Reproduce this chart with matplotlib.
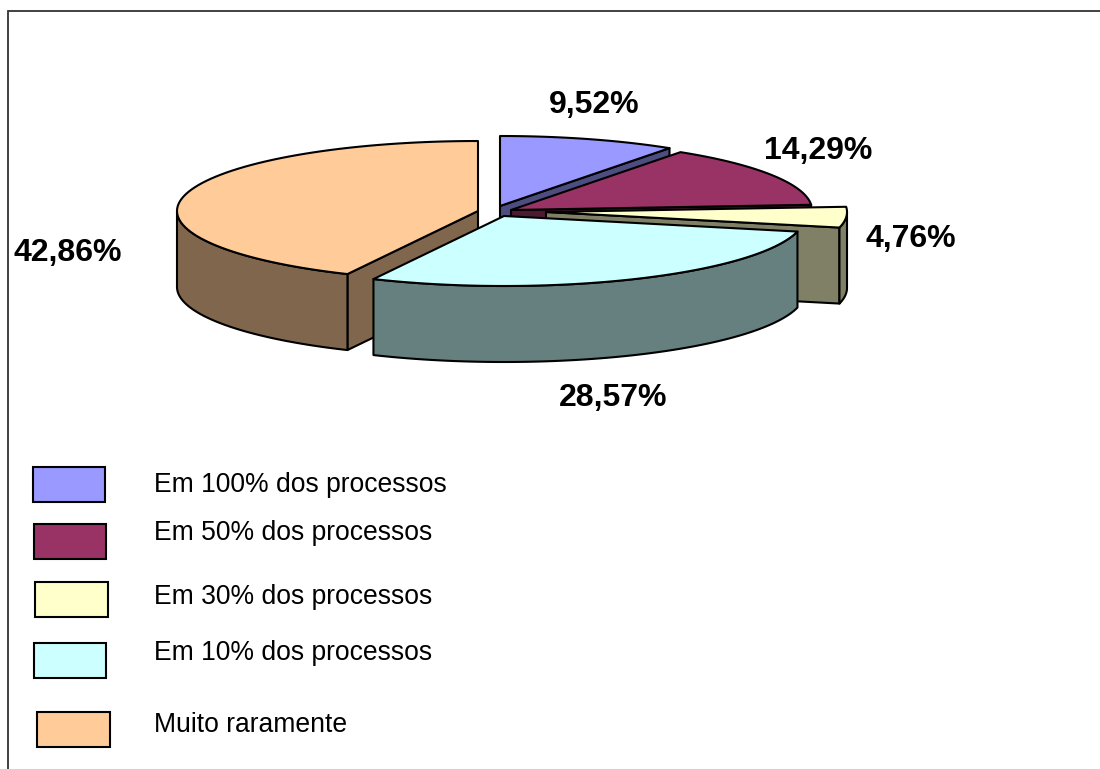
import numpy as np
import matplotlib
matplotlib.use("Agg")
import matplotlib.pyplot as plt
from matplotlib.patches import Polygon, Rectangle

categories = ["Em 100% dos processos", "Em 50% dos processos", "Em 30% dos processos",
              "Em 10% dos processos", "Muito raramente"]
values = [9.52, 14.29, 4.76, 28.57, 42.86]
value_labels = ["9,52%", "14,29%", "4,76%", "28,57%", "42,86%"]

top_colors = ["#9999FF", "#993366", "#FFFFCC", "#CCFFFF", "#FFCC99"]
wall_colors = ["#4D4D80", "#4D1A33", "#808066", "#668080", "#80664D"]
centers = [(500, 206), (511, 210), (546, 212), (504, 216), (478, 211)]
draw_order = [2, 3, 4, 6, 5]
label_pos = [(594, 105), (818, 151), (911, 239), (613, 398), (68, 253)]
swatches = [(32.5, 467), (33.5, 524), (35, 582), (33.5, 643), (37, 712)]
legend_text_y = [485, 533, 597, 653, 725]

RX, RY, DEPTH = 301, 70, 76
SW, SH = 72.5, 35
LW = 1.5

plt.rcParams["font.family"] = ["Liberation Sans", "DejaVu Sans"]
fig = plt.figure(figsize=(11, 7.69), dpi=100)
ax = fig.add_axes([0, 0, 1, 1])
ax.set_xlim(0, 1100)
ax.set_ylim(769, 0)
ax.axis("off")

ax.plot([8, 8, 1100], [769, 11, 11], color="#333333", lw=1.3, solid_joinstyle="miter", zorder=1)


def rim(c, a0, a1, n=80):
    t = np.radians(np.linspace(a0, a1, n))
    return np.column_stack([c[0] + RX * np.sin(t), c[1] - RY * np.cos(t)])


def poly(pts, color, z):
    ax.add_patch(Polygon(pts, closed=True, facecolor=color, edgecolor="black",
                         lw=LW, joinstyle="round", zorder=z))


edges = np.concatenate([[0], np.cumsum(values)]) / sum(values) * 360
down = np.array([0, DEPTH])
for i, v in enumerate(values):
    a0, a1 = edges[i], edges[i + 1]
    c = np.array(centers[i], dtype=float)
    z = draw_order[i]
    if a1 < 180:
        p = rim(c, a1, a1, 1)[0]
        poly([c, p, p + down, c + down], wall_colors[i], z)
    if a0 > 180:
        p = rim(c, a0, a0, 1)[0]
        poly([c, p, p + down, c + down], wall_colors[i], z)
    lo, hi = max(a0, 90), min(a1, 270)
    if lo < hi:
        r = rim(c, lo, hi)
        poly(np.vstack([r, (r + down)[::-1]]), wall_colors[i], z)
    poly(np.vstack([[c], rim(c, a0, a1)]), top_colors[i], z)

    ax.text(*label_pos[i], value_labels[i], fontsize=23, fontweight="bold",
            ha="center", va="center", color="black", zorder=10)

    ax.add_patch(Rectangle(swatches[i], SW, SH, facecolor=top_colors[i],
                           edgecolor="black", lw=LW, zorder=10))
    ax.text(154, legend_text_y[i], categories[i], fontsize=19.1, ha="left",
            va="center", color="black", zorder=10)

fig.savefig("out.png", dpi=100)
